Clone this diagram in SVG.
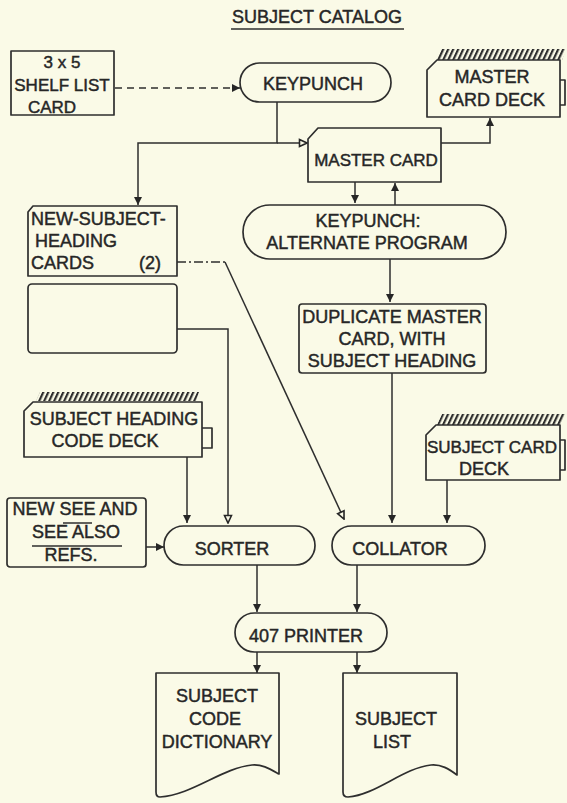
<svg xmlns="http://www.w3.org/2000/svg" width="567" height="803" viewBox="0 0 567 803">
  <style>
    .bg { fill: #fafae7; }
    .shape { fill: none; stroke: #2e2e2e; stroke-width: 1.7; stroke-linejoin: round; }
    .line { fill: none; stroke: #2e2e2e; stroke-width: 1.5; }
    .dash { stroke-dasharray: 7 5; }
    .dashdot { stroke-dasharray: 9 3 2 3; }
    .hatch { fill: url(#hatch); stroke: none; }
    text { font-family: "Liberation Sans", Arial, sans-serif; font-size: 18px; fill: #262626; stroke: #262626; stroke-width: 0.45; }
    .c { text-anchor: middle; }
  </style>
  <defs>
    <marker id="arrow" markerUnits="userSpaceOnUse" markerWidth="10" markerHeight="10" refX="9" refY="5" orient="auto">
      <path d="M1,1 L9,5 L1,9 Z" fill="#262626"/>
    </marker>
    <marker id="arrow-open" markerUnits="userSpaceOnUse" markerWidth="10" markerHeight="10" refX="9" refY="5" orient="auto">
      <path d="M1.5,1.5 L9,5 L1.5,8.5 Z" fill="#fafae7" stroke="#262626" stroke-width="1.6"/>
    </marker>
    <pattern id="hatch" width="5" height="12" patternUnits="userSpaceOnUse" patternTransform="skewX(-25)">
      <rect width="5" height="12" fill="#fafae7"/>
      <rect x="0" width="2.4" height="12" fill="#2e2e2e"/>
    </pattern>
  </defs>

  <rect class="bg" x="0" y="0" width="567" height="803"/>

  <!-- title -->
  <g id="title">
    <text class="c" x="317" y="23">SUBJECT CATALOG</text>
    <line class="line" x1="231" y1="29" x2="404" y2="29"/>
  </g>

  <!-- connectors -->
  <g id="connectors">
    <path class="line dash" d="M115,88 H240" marker-end="url(#arrow)"/>
    <path class="line" d="M277,102 V143 H138 V205" marker-end="url(#arrow)"/>
    <path class="line" d="M277,143 H307" marker-end="url(#arrow-open)"/>
    <path class="line" d="M441,143 H490 V118" marker-end="url(#arrow)"/>
    <path class="line" d="M355,182 V203" marker-end="url(#arrow)"/>
    <path class="line" d="M395,205 V183" marker-end="url(#arrow)"/>
    <path class="line" d="M390,259 V302" marker-end="url(#arrow)"/>
    <path class="line" d="M392,373 V523" marker-end="url(#arrow)"/>
    <path class="line dashdot" d="M177,262 H225"/>
    <path class="line" d="M225,262 L344,519" marker-end="url(#arrow-open)"/>
    <path class="line" d="M177,329 H228 V523" marker-end="url(#arrow-open)"/>
    <path class="line" d="M187,457 V523" marker-end="url(#arrow)"/>
    <path class="line" d="M146,547 H164" marker-end="url(#arrow)"/>
    <path class="line" d="M447,480 V523" marker-end="url(#arrow)"/>
    <path class="line" d="M257,565 V612" marker-end="url(#arrow)"/>
    <path class="line" d="M357,565 V612" marker-end="url(#arrow)"/>
    <path class="line" d="M257,652 V673" marker-end="url(#arrow)"/>
    <path class="line" d="M357,652 V673" marker-end="url(#arrow)"/>
  </g>

  <!-- 3 x 5 shelf list card -->
  <g id="shelf-list-card">
    <path class="shape" d="M11,51 H114 V115 H11 Z"/>
    <text class="c" x="62" y="68" style="font-size:17px">3 x 5</text>
    <text class="c" x="62" y="91" style="font-size:17px">SHELF LIST</text>
    <text class="c" x="52" y="113" style="font-size:17px">CARD</text>
  </g>

  <!-- keypunch -->
  <g id="keypunch">
    <rect class="shape" x="240" y="63" width="151" height="39" rx="19.5"/>
    <text class="c" x="313" y="90">KEYPUNCH</text>
  </g>

  <!-- master card deck -->
  <g id="master-card-deck">
    <path class="hatch" d="M441,49 H566 L562,60 H436 Z"/>
    <path class="shape" d="M427,117 V70 L437,60 H560 V117 Z"/>
    <path class="shape" d="M560,80 H565 V105 H560"/>
    <text class="c" x="492" y="83">MASTER</text>
    <text class="c" x="492" y="106">CARD DECK</text>
  </g>

  <!-- master card -->
  <g id="master-card">
    <path class="shape" d="M308,182 V139 L318,128 H441 V182 Z"/>
    <text class="c" x="376" y="166" style="font-size:17px">MASTER CARD</text>
  </g>

  <!-- keypunch: alternate program -->
  <g id="keypunch-alternate">
    <rect class="shape" x="243" y="205" width="263" height="54" rx="27"/>
    <text class="c" x="368" y="227">KEYPUNCH:</text>
    <text class="c" x="367" y="249">ALTERNATE PROGRAM</text>
  </g>

  <!-- duplicate master card -->
  <g id="duplicate-master-card">
    <rect class="shape" x="299" y="304" width="187" height="69" rx="3"/>
    <text class="c" x="392" y="323">DUPLICATE MASTER</text>
    <text class="c" x="392" y="345">CARD, WITH</text>
    <text class="c" x="392" y="367">SUBJECT HEADING</text>
  </g>

  <!-- new subject heading cards -->
  <g id="new-subject-heading-cards">
    <path class="shape" d="M28,276 V212 L33,206 H177 V276 Z"/>
    <text x="31" y="225">NEW-SUBJECT-</text>
    <text x="35" y="247">HEADING</text>
    <text x="31" y="269">CARDS</text>
    <text x="139" y="269">(2)</text>
  </g>

  <!-- blank card -->
  <g id="blank-card">
    <rect class="shape" x="28" y="284" width="149" height="69" rx="4"/>
  </g>

  <!-- subject heading code deck -->
  <g id="subject-heading-code-deck">
    <path class="hatch" d="M40,392 H199 L196,401 H36 Z"/>
    <path class="shape" d="M24,457 V411 L33,402 H202 V457 Z"/>
    <path class="shape" d="M202,428 H212 V448 H202"/>
    <text class="c" x="114" y="425">SUBJECT HEADING</text>
    <text class="c" x="105" y="447">CODE DECK</text>
  </g>

  <!-- new see and see also refs -->
  <g id="see-also-refs">
    <rect class="shape" x="7" y="498" width="139" height="69" rx="3"/>
    <text class="c" x="75" y="515">NEW SEE AND</text>
    <line class="line" x1="63" y1="523" x2="92" y2="523"/>
    <text class="c" x="76" y="538">SEE ALSO</text>
    <line class="line" x1="32" y1="546" x2="122" y2="546"/>
    <text class="c" x="71" y="561">REFS.</text>
  </g>

  <!-- subject card deck -->
  <g id="subject-card-deck">
    <path class="hatch" d="M442,414 H565 L561,425 H437 Z"/>
    <path class="shape" d="M426,480 V435 L436,425 H560 V480 Z"/>
    <path class="shape" d="M560,440 H565 V470 H560"/>
    <text class="c" x="492" y="453" style="font-size:17px">SUBJECT CARD</text>
    <text class="c" x="484" y="475">DECK</text>
  </g>

  <!-- sorter -->
  <g id="sorter">
    <rect class="shape" x="164" y="526" width="151" height="39" rx="19.5"/>
    <text class="c" x="232" y="555">SORTER</text>
  </g>

  <!-- collator -->
  <g id="collator">
    <rect class="shape" x="332" y="526" width="153" height="39" rx="19.5"/>
    <text class="c" x="400" y="555">COLLATOR</text>
  </g>

  <!-- 407 printer -->
  <g id="printer">
    <rect class="shape" x="235" y="613" width="152" height="39" rx="19.5"/>
    <text class="c" x="306" y="642">407 PRINTER</text>
  </g>

  <!-- subject code dictionary -->
  <g id="subject-code-dictionary">
    <path class="shape" d="M156,673 H279 V774 C270,769 262,764 252,765 C222,768 192,795 160,797 Q156,797 156,792 Z"/>
    <text class="c" x="217" y="702">SUBJECT</text>
    <text class="c" x="215" y="725">CODE</text>
    <text class="c" x="217" y="748">DICTIONARY</text>
  </g>

  <!-- subject list -->
  <g id="subject-list">
    <path class="shape" d="M343,673 H457 V775 C449,769 441,764 431,765 C403,768 376,795 348,797 Q343,797 343,792 Z"/>
    <text class="c" x="396" y="725">SUBJECT</text>
    <text class="c" x="392" y="748">LIST</text>
  </g>
</svg>
